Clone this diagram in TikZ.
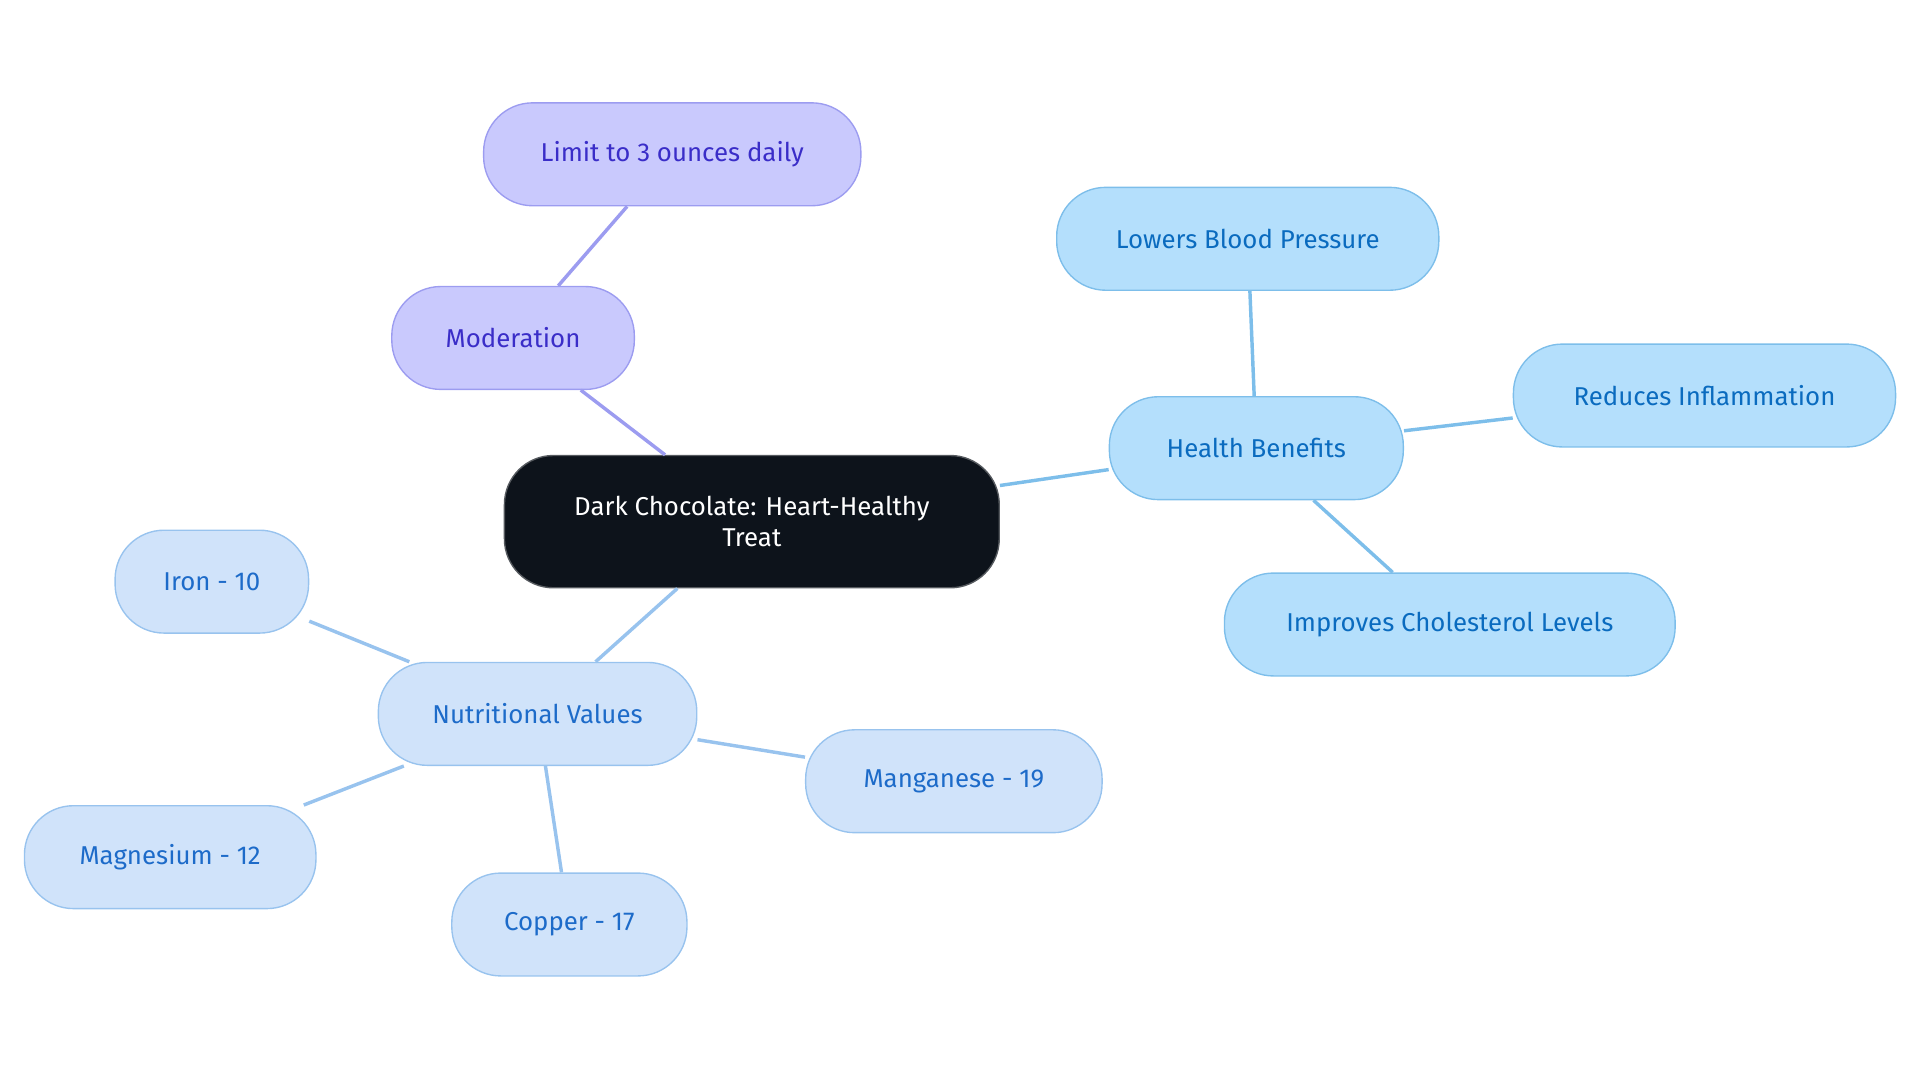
\documentclass[tikz,border=0pt]{standalone}
\usepackage{fontspec}
\setmainfont{Fira Sans}
\definecolor{rootfill}{HTML}{0D131B}
\definecolor{modfill}{HTML}{C9C9FD}
\definecolor{moddraw}{HTML}{9C9CF0}
\definecolor{modtext}{HTML}{3A2DC8}
\definecolor{hbfill}{HTML}{B4DFFC}
\definecolor{hbdraw}{HTML}{7DBEEA}
\definecolor{hbtext}{HTML}{0A6BBF}
\definecolor{nvfill}{HTML}{D0E3FA}
\definecolor{nvdraw}{HTML}{98C3EE}
\definecolor{nvtext}{HTML}{1D6BC9}
\begin{document}
\begin{tikzpicture}[x=0.025cm,y=-0.025cm,
pill/.style={rounded corners=1cm, minimum height=2.1cm, font=\fontsize{15}{18}\selectfont, line width=0.8pt, inner sep=0pt},
rootnode/.style={pill, fill=rootfill, draw=rootfill!70!white, text=white, align=center},
modnode/.style={pill, fill=modfill, draw=moddraw, text=modtext},
hbnode/.style={pill, fill=hbfill, draw=hbdraw, text=hbtext},
nvnode/.style={pill, fill=nvfill, draw=nvdraw, text=nvtext},
link/.style={line width=2pt},
]
\useasboundingbox (0,0) rectangle (1568,884);
%Nodes
\node[rootnode, minimum width=10.1cm, minimum height=2.7cm] at (614,426) (root) {Dark Chocolate: Heart-Healthy\\Treat};
\node[modnode, minimum width=4.95cm] at (419,276) (mod) {Moderation};
\node[modnode, minimum width=7.7cm] at (549,126) (limit) {Limit to 3 ounces daily};
\node[hbnode, minimum width=6cm] at (1026,366) (hb) {Health Benefits};
\node[hbnode, minimum width=7.8cm] at (1019,195) (bp) {Lowers Blood Pressure};
\node[hbnode, minimum width=7.8cm] at (1392,323) (infl) {Reduces Inflammation};
\node[hbnode, minimum width=9.2cm] at (1184,510) (chol) {Improves Cholesterol Levels};
\node[nvnode, minimum width=6.5cm] at (439,583) (nv) {Nutritional Values};
\node[nvnode, minimum width=3.95cm] at (173,475) (iron) {Iron - 10};
\node[nvnode, minimum width=5.95cm] at (139,700) (magn) {Magnesium - 12};
\node[nvnode, minimum width=4.8cm] at (465,755) (copper) {Copper - 17};
\node[nvnode, minimum width=6.05cm] at (779,638) (mang) {Manganese - 19};
%Lines
\draw[link, moddraw] (root) -- (mod);
\draw[link, moddraw] (mod) -- (limit);
\draw[link, hbdraw] (root) -- (hb);
\draw[link, hbdraw] (hb) -- (bp);
\draw[link, hbdraw] (hb) -- (infl);
\draw[link, hbdraw] (hb) -- (chol);
\draw[link, nvdraw] (root) -- (nv);
\draw[link, nvdraw] (nv) -- (iron);
\draw[link, nvdraw] (nv) -- (magn);
\draw[link, nvdraw] (nv) -- (copper);
\draw[link, nvdraw] (nv) -- (mang);
\end{tikzpicture}
\end{document}
